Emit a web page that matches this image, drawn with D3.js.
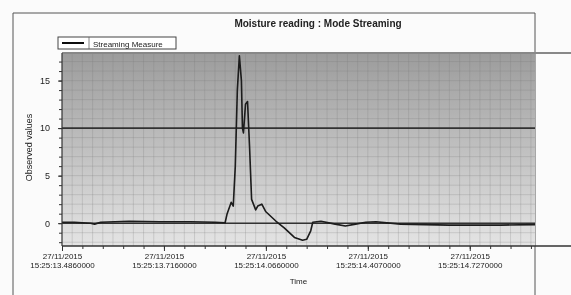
<!DOCTYPE html>
<html>
<head>
<meta charset="utf-8">
<script src="https://cdn.jsdelivr.net/npm/d3@7/dist/d3.min.js"></script>
<style>
  body { margin: 0; background: #fff; }
  text { font-family: "Liberation Sans", Arial, sans-serif; fill: #222; }
</style>
</head>
<body>
<div class="chart"></div>
<script>
// chart data (x = sample index)
var sampleIndex = [0, 6, 14, 16, 19, 33, 48, 63, 75, 80, 81, 83, 84, 85, 86, 87, 88, 88.5, 89, 90, 91, 92, 93, 95, 96, 98, 100, 105, 109, 114, 118, 120, 122, 123, 127, 134, 139, 144, 149, 154, 166, 190, 215, 232];
var observed    = [0.1, 0.1, 0.0, -0.1, 0.1, 0.2, 0.15, 0.15, 0.1, 0.05, 1.0, 2.2, 1.8, 6, 14, 17.6, 15, 10, 9.5, 12.5, 12.8, 8, 2.5, 1.4, 1.8, 2.0, 1.2, 0.2, -0.5, -1.5, -1.8, -1.7, -0.8, 0.1, 0.2, -0.1, -0.3, -0.1, 0.1, 0.15, -0.1, -0.2, -0.2, -0.15, -0.15];
var xTickIndex  = [0, 50, 100, 150, 200];
var xTickLabels = [
  ['27/11/2015', '15:25:13.4860000'],
  ['27/11/2015', '15:25:13.7160000'],
  ['27/11/2015', '15:25:14.0660000'],
  ['27/11/2015', '15:25:14.4070000'],
  ['27/11/2015', '15:25:14.7270000']
];
var yTicks = [0, 5, 10, 15];
var refLines = [0, 10];
var chartTitle = 'Moisture reading : Mode Streaming';
var seriesName = 'Streaming Measure';

var W = 571, H = 295;
var margin = {top: 53, right: 36, bottom: 49, left: 62};
var width = W - margin.left - margin.right;
var height = H - margin.top - margin.bottom;

var svg = d3.select('.chart')
  .append('svg')
  .attr('width', W)
  .attr('height', H);

var defs = svg.append('defs');
var grad = defs.append('linearGradient')
  .attr('id', 'bg').attr('x1', 0).attr('y1', 0).attr('x2', 0).attr('y2', 1);
grad.append('stop').attr('offset', '0%').attr('stop-color', '#9c9c9c');
grad.append('stop').attr('offset', '40%').attr('stop-color', '#b9b9b9');
grad.append('stop').attr('offset', '100%').attr('stop-color', '#e4e4e4');
defs.append('filter').attr('id', 'scan')
  .append('feGaussianBlur').attr('stdDeviation', 0.45);

var root = svg.append('g').attr('filter', 'url(#scan)');

// page frame of the scan
root.append('rect').attr('width', W).attr('height', H).attr('fill', '#fbfbfb');
root.append('path')
  .attr('d', 'M13,' + H + 'V13H' + (W - 36) + 'V' + H)
  .attr('fill', 'none').attr('stroke', '#555').attr('stroke-width', 1);

var g = root.append('g')
  .attr('transform', 'translate(' + margin.left + ', ' + margin.top + ')');

var xScale = d3.scaleLinear().domain([0, 232]).range([0, width]);
var yScale = d3.scaleLinear().domain([-2.4, 17.9]).range([height, 0]);

g.append('rect')
  .attr('width', width).attr('height', height)
  .attr('fill', 'url(#bg)');

// fine grid
g.append('g').selectAll('line')
  .data(d3.range(5, 232, 5))
  .enter().append('line')
  .attr('x1', function(d) { return xScale(d); })
  .attr('x2', function(d) { return xScale(d); })
  .attr('y1', 0).attr('y2', height)
  .attr('stroke', '#7a7a7a').attr('stroke-opacity', 0.3).attr('stroke-width', 0.8);
g.append('g').selectAll('line')
  .data(d3.range(-2, 18, 1))
  .enter().append('line')
  .attr('x1', 0).attr('x2', width)
  .attr('y1', function(d) { return yScale(d); })
  .attr('y2', function(d) { return yScale(d); })
  .attr('stroke', '#7a7a7a').attr('stroke-opacity', 0.3).attr('stroke-width', 0.8);

// dark reference lines at 0 and 10
g.selectAll('.ref')
  .data(refLines)
  .enter().append('line')
  .attr('class', 'ref')
  .attr('x1', 0).attr('x2', width)
  .attr('y1', function(d) { return yScale(d); })
  .attr('y2', function(d) { return yScale(d); })
  .attr('stroke', '#333').attr('stroke-width', 1.6);

// top / bottom lines run past the plot to the edge of the page
g.append('line').attr('x1', 0).attr('x2', W - margin.left)
  .attr('y1', 0).attr('y2', 0).attr('stroke', '#888').attr('stroke-width', 2);
g.append('line').attr('x1', 0).attr('x2', W - margin.left)
  .attr('y1', height).attr('y2', height).attr('stroke', '#333').attr('stroke-width', 1.4);

var line = d3.line()
  .x(function(d) { return xScale(d[0]); })
  .y(function(d) { return yScale(d[1]); });

g.append('path')
  .datum(d3.zip(sampleIndex, observed))
  .attr('d', line)
  .attr('fill', 'none')
  .attr('stroke', '#1a1a1a')
  .attr('stroke-width', 1.6)
  .attr('stroke-linejoin', 'round');

// axes
var yAxis = d3.axisLeft(yScale).tickValues(yTicks).tickSize(4).tickPadding(8);
var yMinor = d3.axisLeft(yScale).tickValues(d3.range(-2, 18, 1)).tickSize(3).tickFormat('');
g.append('g').attr('class', 'yaxis').call(yMinor);
g.append('g').attr('class', 'yaxis').call(yAxis);

var xMinor = d3.axisBottom(xScale).tickValues(d3.range(0, 232, 10)).tickSize(3).tickFormat('');
var xAxis = d3.axisBottom(xScale).tickValues(xTickIndex).tickSize(5).tickFormat('');
g.append('g').attr('class', 'xaxis').attr('transform', 'translate(0, ' + height + ')').call(xMinor);
var xa = g.append('g').attr('class', 'xaxis').attr('transform', 'translate(0, ' + height + ')').call(xAxis);

g.selectAll('.yaxis path, .xaxis path').remove();
g.selectAll('.yaxis line, .xaxis line').attr('stroke', '#333');
g.selectAll('.yaxis text').attr('font-size', 9).attr('fill', '#333');
g.append('line').attr('x1', 0).attr('x2', 0).attr('y1', 0).attr('y2', height)
  .attr('stroke', '#333').attr('stroke-width', 1.2);

xa.selectAll('.tick').each(function(d, i) {
  var t = d3.select(this).append('text')
    .attr('text-anchor', 'middle')
    .attr('font-size', 8)
    .attr('fill', '#333');
  t.append('tspan').attr('x', 0).attr('y', 13).text(xTickLabels[i][0]);
  t.append('tspan').attr('x', 0).attr('y', 22).text(xTickLabels[i][1]);
});

// axis titles
g.append('text')
  .attr('x', width / 2).attr('y', height + 38)
  .attr('text-anchor', 'middle').attr('font-size', 8).attr('fill', '#333')
  .text('Time');
g.append('text')
  .attr('transform', 'translate(-30, ' + (height / 2 - 2) + ') rotate(-90)')
  .attr('text-anchor', 'middle').attr('font-size', 9).attr('fill', '#333')
  .text('Observed values');

// title
root.append('text')
  .attr('x', 318).attr('y', 27)
  .attr('text-anchor', 'middle')
  .attr('font-size', 10).attr('font-weight', 'bold')
  .text(chartTitle);

// legend
var lg = root.append('g').attr('transform', 'translate(58, 37)');
lg.append('rect').attr('width', 118).attr('height', 12)
  .attr('fill', '#fff').attr('stroke', '#444').attr('stroke-width', 1);
lg.append('line').attr('x1', 4).attr('x2', 26).attr('y1', 6).attr('y2', 6)
  .attr('stroke', '#111').attr('stroke-width', 2);
lg.append('line').attr('x1', 31).attr('x2', 31).attr('y1', 0).attr('y2', 12)
  .attr('stroke', '#666').attr('stroke-width', 0.8);
lg.append('text').attr('x', 35).attr('y', 9.5)
  .attr('font-size', 8).attr('fill', '#333')
  .text(seriesName);
</script>
</body>
</html>
